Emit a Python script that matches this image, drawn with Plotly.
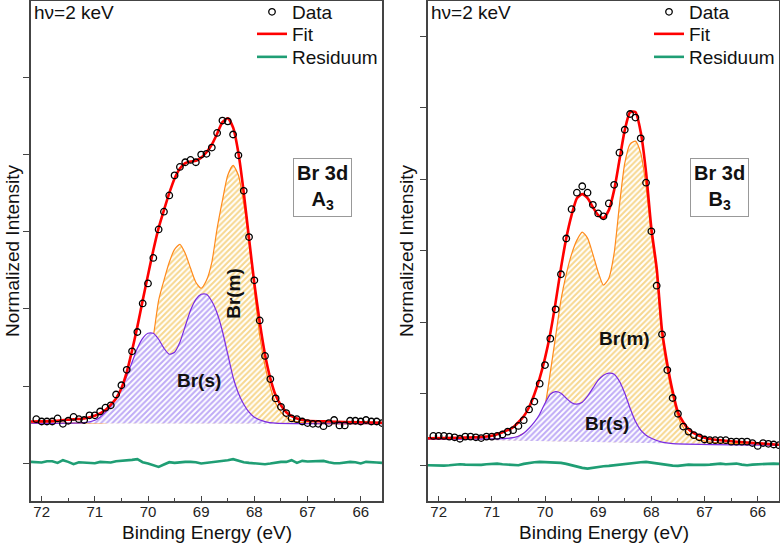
import plotly.graph_objects as go

# ---------------- data (binding energy in eV, normalized intensity) ----------------
DATA_E = [72.1, 72.0, 71.9, 71.8, 71.7, 71.6, 71.5, 71.4, 71.3, 71.2, 71.1, 71.0,
          70.9, 70.8, 70.7, 70.6, 70.5, 70.4, 70.3, 70.2, 70.1, 70.0,
          69.9, 69.8, 69.7, 69.6, 69.5, 69.4, 69.3, 69.2, 69.1, 69.0,
          68.9, 68.8, 68.7, 68.6, 68.5, 68.4, 68.3, 68.2, 68.1, 68.0,
          67.9, 67.8, 67.7, 67.6, 67.5, 67.4, 67.3, 67.2, 67.1, 67.0,
          66.9, 66.8, 66.7, 66.6, 66.5, 66.4, 66.3, 66.2, 66.1, 66.0,
          65.9, 65.8, 65.7, 65.6]

A3_DATA = [0.57, 0.54, 0.54, 0.54, 0.58, 0.51, 0.55, 0.60, 0.57, 0.56, 0.62, 0.62,
           0.67, 0.72, 0.75, 0.89, 1.01, 1.21, 1.45, 1.70, 2.07, 2.33,
           2.66, 3.03, 3.26, 3.47, 3.73, 3.84, 3.90, 3.93, 3.90, 4.00,
           4.01, 4.09, 4.28, 4.44, 4.43, 4.26, 3.99, 3.53, 2.93, 2.37,
           1.85, 1.39, 1.09, 0.84, 0.73, 0.65, 0.58, 0.57, 0.54, 0.52,
           0.51, 0.51, 0.48, 0.52, 0.56, 0.49, 0.49, 0.55, 0.55, 0.54,
           0.56, 0.54, 0.54, 0.52]

B3_DATA = [0.41, 0.41, 0.41, 0.40, 0.39, 0.37, 0.40, 0.40, 0.39, 0.38, 0.40, 0.40,
           0.41, 0.43, 0.47, 0.49, 0.55, 0.63, 0.78, 0.89, 1.14, 1.40,
           1.77, 2.18, 2.67, 3.17, 3.58, 3.81, 3.90, 3.81, 3.64, 3.52,
           3.48, 3.66, 3.92, 4.37, 4.69, 4.91, 4.86, 4.57, 3.95, 3.27,
           2.51, 1.83, 1.33, 0.94, 0.72, 0.54, 0.47, 0.42, 0.39, 0.36,
           0.35, 0.35, 0.35, 0.35, 0.33, 0.33, 0.33, 0.33, 0.31, 0.27,
           0.31, 0.30, 0.29, 0.28]

# fit envelopes
A3_FIT_E = [72.2, 71.8, 71.4, 71.2, 71.0, 70.8, 70.6, 70.5, 70.4, 70.3, 70.2, 70.1, 70.0,
            69.9, 69.8, 69.7, 69.6, 69.5, 69.4, 69.3, 69.2, 69.1, 69.0,
            68.9, 68.8, 68.7, 68.6, 68.5, 68.4, 68.3, 68.2, 68.1, 68.0,
            67.9, 67.8, 67.7, 67.6, 67.5, 67.4, 67.3, 67.2, 67.0, 66.6, 66.0, 65.6]
A3_FIT = [0.54, 0.545, 0.57, 0.58, 0.615, 0.69, 0.84, 0.97, 1.18, 1.46, 1.77, 2.11, 2.44,
          2.76, 3.05, 3.28, 3.50, 3.69, 3.82, 3.89, 3.91, 3.92, 3.96,
          4.03, 4.13, 4.27, 4.42, 4.47, 4.35, 4.02, 3.51, 2.91, 2.33,
          1.83, 1.41, 1.10, 0.88, 0.75, 0.66, 0.61, 0.58, 0.55, 0.54, 0.53, 0.525]

B3_FIT_E = [72.2, 71.6, 71.2, 71.0, 70.9, 70.8, 70.7, 70.6, 70.5, 70.4, 70.3, 70.2, 70.1, 70.0,
            69.9, 69.8, 69.7, 69.6, 69.5, 69.4, 69.3, 69.2, 69.1, 69.0,
            68.9, 68.8, 68.7, 68.6, 68.5, 68.4, 68.3, 68.2, 68.1, 68.0,
            67.9, 67.8, 67.7, 67.6, 67.5, 67.4, 67.3, 67.2, 67.0, 66.8, 66.4, 66.0, 65.6]
B3_FIT = [0.378, 0.385, 0.394, 0.413, 0.434, 0.462, 0.490, 0.531, 0.601, 0.685, 0.811, 0.993, 1.217, 1.497,
          1.846, 2.280, 2.755, 3.175, 3.497, 3.734, 3.790, 3.734, 3.608, 3.497,
          3.455, 3.566, 3.846, 4.266, 4.685, 4.937, 4.937, 4.657, 4.098, 3.315,
          2.755, 1.888, 1.413, 1.035, 0.741, 0.601, 0.503, 0.448, 0.385, 0.357, 0.329, 0.308, 0.287]

# backgrounds (end points)
BG_E = [72.2, 65.6]
A3_BG = [0.518, 0.512]
B3_BG = [0.364, 0.280]

# Br(m) component (absolute, on top of background)
A3_M_E = [72.2, 70.8, 70.6, 70.5, 70.4, 70.3, 70.2, 70.1, 70.0, 69.9, 69.8, 69.7, 69.6, 69.5,
          69.4, 69.3, 69.2, 69.1, 69.0, 68.9, 68.8, 68.7, 68.6, 68.5, 68.4, 68.3, 68.2, 68.1,
          68.0, 67.9, 67.8, 67.7, 67.6, 67.5, 67.4, 67.3, 67.1, 66.8, 65.6]
A3_M = [0.518, 0.525, 0.544, 0.570, 0.635, 0.738, 0.881, 1.088, 1.334, 1.645, 2.111, 2.370, 2.604, 2.772,
        2.837, 2.720, 2.526, 2.345, 2.267, 2.370, 2.604, 3.044, 3.407, 3.731, 3.860, 3.731, 3.368, 2.863,
        2.241, 1.658, 1.269, 0.984, 0.777, 0.661, 0.596, 0.557, 0.525, 0.512, 0.512]

B3_M_E = [72.2, 70.6, 70.5, 70.4, 70.3, 70.2, 70.1, 70.0, 69.9, 69.8, 69.7, 69.6, 69.5,
          69.4, 69.3, 69.2, 69.1, 69.0, 68.9, 68.8, 68.7, 68.6, 68.5, 68.4, 68.3, 68.2, 68.1,
          68.0, 67.9, 67.8, 67.7, 67.6, 67.5, 67.4, 67.3, 67.2, 67.0, 66.8, 66.4, 65.6]
B3_M = [0.364, 0.378, 0.406, 0.448, 0.503, 0.559, 0.671, 0.839, 1.301, 1.804, 2.308, 2.671, 2.951,
        3.147, 3.259, 3.175, 2.951, 2.699, 2.517, 2.615, 2.965, 3.636, 4.224, 4.490, 4.531, 4.364, 3.902,
        3.217, 2.671, 1.804, 1.329, 0.965, 0.685, 0.531, 0.434, 0.385, 0.336, 0.315, 0.301, 0.280]

# Br(s) component (absolute, on top of background)
A3_S_E = [72.2, 71.2, 71.0, 70.9, 70.8, 70.7, 70.6, 70.5, 70.4, 70.3, 70.2, 70.1, 70.0,
          69.9, 69.8, 69.7, 69.6, 69.5, 69.4, 69.3, 69.2, 69.1, 69.0, 68.9, 68.8, 68.7,
          68.6, 68.5, 68.4, 68.3, 68.2, 68.1, 68.0, 67.8, 67.6, 65.6]
A3_S = [0.518, 0.525, 0.557, 0.596, 0.661, 0.738, 0.842, 0.971, 1.127, 1.308, 1.490, 1.619, 1.684,
        1.684, 1.606, 1.490, 1.412, 1.438, 1.567, 1.775, 1.982, 2.124, 2.189, 2.189, 2.098, 1.943,
        1.710, 1.412, 1.114, 0.907, 0.764, 0.661, 0.596, 0.538, 0.518, 0.512]

B3_S_E = [72.2, 70.8, 70.6, 70.5, 70.4, 70.3, 70.2, 70.1, 70.0, 69.9, 69.8, 69.7, 69.6, 69.5,
          69.4, 69.3, 69.2, 69.1, 69.0, 68.9, 68.8, 68.7, 68.6, 68.5, 68.4, 68.3, 68.2, 68.1,
          68.0, 67.8, 67.6, 65.6]
B3_S = [0.364, 0.371, 0.385, 0.406, 0.448, 0.517, 0.601, 0.713, 0.867, 0.993, 1.028, 1.007, 0.937, 0.874,
        0.853, 0.881, 0.965, 1.077, 1.189, 1.259, 1.287, 1.273, 1.175, 1.007, 0.797, 0.615, 0.490, 0.420,
        0.378, 0.322, 0.301, 0.280]

# residuum
RES_E = [72.2, 72.1, 72.0, 71.9, 71.8, 71.7, 71.6, 71.5, 71.4, 71.3, 71.2, 71.1, 71.0,
         70.9, 70.8, 70.7, 70.6, 70.5, 70.4, 70.3, 70.2, 70.1, 70.0,
         69.9, 69.8, 69.7, 69.6, 69.5, 69.4, 69.3, 69.2, 69.1, 69.0,
         68.9, 68.8, 68.7, 68.6, 68.5, 68.4, 68.3, 68.2, 68.1, 68.0,
         67.9, 67.8, 67.7, 67.6, 67.5, 67.4, 67.3, 67.2, 67.1, 67.0,
         66.9, 66.8, 66.7, 66.6, 66.5, 66.4, 66.3, 66.2, 66.1, 66.0,
         65.9, 65.8, 65.7, 65.6]
A3_RES = [0.017, 0.009, 0.009, 0.026, 0.026, 0.004, 0.039, 0.017, -0.013, 0.013, 0.009, 0.0, 0.0,
          0.017, 0.009, 0.009, 0.026, 0.030, 0.039, 0.043, 0.052, 0.013, -0.004,
          -0.026, -0.048, -0.017, 0.013, 0.004, 0.013, 0.017, 0.017, 0.013, -0.004,
          0.004, 0.013, 0.017, 0.026, 0.039, 0.052, 0.030, 0.013, 0.004, -0.004,
          -0.009, -0.013, -0.004, 0.009, 0.017, 0.017, 0.039, 0.004, 0.030, 0.022,
          0.026, 0.035, 0.030, 0.013, 0.0, 0.0, 0.009, 0.017, 0.013, -0.004,
          0.017, 0.009, 0.009, 0.004]
B3_RES = [0.0, -0.005, -0.009, -0.005, 0.0, 0.009, 0.014, 0.009, 0.005, 0.0, 0.005, 0.014, 0.019,
          0.023, 0.014, 0.009, 0.005, 0.0, 0.019, 0.033, 0.042, 0.047, 0.042,
          0.042, 0.042, 0.033, 0.019, 0.0, -0.023, -0.037, -0.047, -0.033, -0.023,
          -0.014, -0.009, 0.0, 0.014, 0.023, 0.028, 0.033, 0.042, 0.047, 0.037,
          0.023, 0.009, 0.0, -0.005, -0.009, 0.0, 0.009, 0.005, 0.0, 0.005,
          0.009, 0.019, 0.023, 0.014, 0.019, 0.023, 0.009, 0.0, 0.009, 0.014,
          0.019, 0.023, 0.023, 0.019]

X_TICKS = [72, 71, 70, 69, 68, 67, 66]
X_RANGE = [72.2, 65.6]
A3_YRANGE = [-0.49, 5.99]
B3_YRANGE = [-0.50, 6.49]

# ---------------- styling ----------------
FONT = "Liberation Sans, Arial, sans-serif"
RED = "#ff0000"
GREEN = "#1f9e74"
ORANGE_LINE = "#ff8a1c"
ORANGE_HATCH = "#efb020"
PURPLE_LINE = "#7a2be0"
PURPLE_HATCH = "#7f58ee"

W, H = 780, 543
PL, PR = 31, 382
PL2, PR2 = 428, 779
PLOT_TOP, PLOT_BOTTOM = 1, 501
ROWS_PX = [12, 34, 57]            # legend row centres (px from top)
LEG_LEFT = [PL + 221, PL2 + 221]  # legend box left edge (px)


def py2paper(py):
    return (PLOT_BOTTOM - py) / (PLOT_BOTTOM - PLOT_TOP)


fig = go.Figure()


def add_panel(idx, xa, ya, bg, m_e, m, s_e, s, res, fit_e, fit, data):
    common = dict(xaxis=xa, yaxis=ya, hoverinfo="skip")
    legs = ["legend" if idx == 0 else "legend2", "legend%d" % (3 + idx * 2), "legend%d" % (4 + idx * 2)]
    # background + Br(m)
    fig.add_trace(go.Scatter(x=BG_E, y=bg, mode="lines", line=dict(width=0, color="rgba(0,0,0,0)"),
                             showlegend=False, **common))
    fig.add_trace(go.Scatter(x=m_e, y=m, mode="lines",
                             line=dict(color=ORANGE_LINE, width=1.2, shape="spline", smoothing=0.6),
                             fill="tonexty", fillcolor="rgba(0,0,0,0)",
                             fillpattern=dict(shape="/", fgcolor=ORANGE_HATCH, size=4, solidity=0.52),
                             showlegend=False, **common))
    # background + Br(s)
    fig.add_trace(go.Scatter(x=BG_E, y=bg, mode="lines", line=dict(width=0, color="rgba(0,0,0,0)"),
                             showlegend=False, **common))
    fig.add_trace(go.Scatter(x=s_e, y=s, mode="lines",
                             line=dict(color=PURPLE_LINE, width=1.2, shape="spline", smoothing=0.6),
                             fill="tonexty", fillcolor="white",
                             fillpattern=dict(shape="/", fgcolor=PURPLE_HATCH, bgcolor="white", size=4, solidity=0.52),
                             showlegend=False, **common))
    # residuum, fit, data (data drawn on top)
    fig.add_trace(go.Scatter(x=RES_E, y=res, mode="lines", name="Residuum", legend=legs[2],
                             line=dict(color=GREEN, width=2.6), **common))
    fig.add_trace(go.Scatter(x=fit_e, y=fit, mode="lines", name="Fit", legend=legs[1],
                             line=dict(color=RED, width=2.6, shape="spline", smoothing=0.6), **common))
    fig.add_trace(go.Scatter(x=DATA_E, y=data, mode="markers", name="Data", legend=legs[0],
                             marker=dict(symbol="circle-open", size=6.5, color="black",
                                         line=dict(width=1.3, color="black")),
                             **common))
    return legs


legsA = add_panel(0, "x", "y", A3_BG, A3_M_E, A3_M, A3_S_E, A3_S, A3_RES, A3_FIT_E, A3_FIT, A3_DATA)
legsB = add_panel(1, "x2", "y2", B3_BG, B3_M_E, B3_M, B3_S_E, B3_S, B3_RES, B3_FIT_E, B3_FIT, B3_DATA)

xaxis_common = dict(range=X_RANGE, autorange=False, tickvals=X_TICKS, ticks="inside", ticklen=5,
                    tickcolor="#444", tickwidth=1, showline=True, linecolor="#444", linewidth=1.5,
                    mirror=True, showgrid=False, zeroline=False, ticklabelstandoff=-4,
                    tickfont=dict(family=FONT, size=15, color="#222"),
                    minor=dict(dtick=0.5, ticks="inside", ticklen=3, tickcolor="#444", showgrid=False))
yaxis_common = dict(tickvals=[0, 1, 2, 3, 4, 5, 6], ticks="outside", ticklen=6, tickcolor="#444",
                    showticklabels=False, showline=True, linecolor="#444", linewidth=1.5, mirror=True,
                    showgrid=False, zeroline=False)

layout_legends = {}
for pi, legs in enumerate((legsA, legsB)):
    for ri, lg in enumerate(legs):
        layout_legends[lg] = dict(x=LEG_LEFT[pi] / W, xanchor="left", y=py2paper(ROWS_PX[ri]), yanchor="middle",
                                  bgcolor="rgba(0,0,0,0)", borderwidth=0,
                                  font=dict(family=FONT, size=19, color="#111"))

fig.update_layout(
    width=W, height=H,
    margin=dict(l=0, r=0, t=PLOT_TOP, b=H - PLOT_BOTTOM, autoexpand=False),
    paper_bgcolor="white", plot_bgcolor="white",
    font=dict(family=FONT, color="#111"),
    xaxis=dict(domain=[PL / W, PR / W], anchor="y", **xaxis_common),
    yaxis=dict(domain=[0, 1], anchor="x", range=A3_YRANGE, autorange=False, **yaxis_common),
    xaxis2=dict(domain=[PL2 / W, PR2 / W], anchor="y2", **xaxis_common),
    yaxis2=dict(domain=[0, 1], anchor="x2", range=B3_YRANGE, autorange=False, **yaxis_common),
    showlegend=True,
    **layout_legends,
)

ann = []
for xr, yr, pl, lbl, mx, my, sx, sy in (
        ("x domain", "y domain", PL, "A<sub>3</sub>", 0.575, 0.416, 0.479, 0.242),
        ("x2 domain", "y2 domain", PL2, "B<sub>3</sub>", 0.561, 0.324, 0.510, 0.156)):
    ann.append(dict(xref=xr, yref=yr, x=0.003, y=0.978, text="hν=2 keV", showarrow=False,
                    xanchor="left", yanchor="middle", font=dict(family=FONT, size=19, color="#111")))
    ann.append(dict(xref=xr, yref=yr, x=0.831, y=0.628, text="<b>Br 3d</b><br><b>" + lbl + "</b>",
                    showarrow=False, xanchor="center", yanchor="middle", align="center",
                    bordercolor="#999", borderwidth=1, borderpad=3, bgcolor="white",
                    font=dict(family=FONT, size=20, color="#111")))
    ann.append(dict(xref=xr, yref=yr, x=mx, y=my, text="<b>Br(m)</b>", showarrow=False,
                    textangle=-90 if pl == PL else 0,
                    xanchor="center", yanchor="middle", font=dict(family=FONT, size=19, color="#111")))
    ann.append(dict(xref=xr, yref=yr, x=sx, y=sy, text="<b>Br(s)</b>", showarrow=False,
                    xanchor="center", yanchor="middle", font=dict(family=FONT, size=19, color="#111")))

# axis titles
for cx in ((PL + PR) / 2, (PL2 + PR2) / 2):
    ann.append(dict(xref="paper", yref="paper", x=cx / W, y=py2paper(532), text="Binding Energy (eV)",
                    showarrow=False, xanchor="center", yanchor="middle",
                    font=dict(family=FONT, size=19, color="#111")))
for cx in (12, 406):
    ann.append(dict(xref="paper", yref="paper", x=cx / W, y=0.5, text="Normalized Intensity", textangle=-90,
                    showarrow=False, xanchor="center", yanchor="middle",
                    font=dict(family=FONT, size=19, color="#111")))

fig.update_layout(annotations=ann)

fig.write_html("out.html", config={"displayModeBar": False},
               post_script="document.body.style.margin='0';")
